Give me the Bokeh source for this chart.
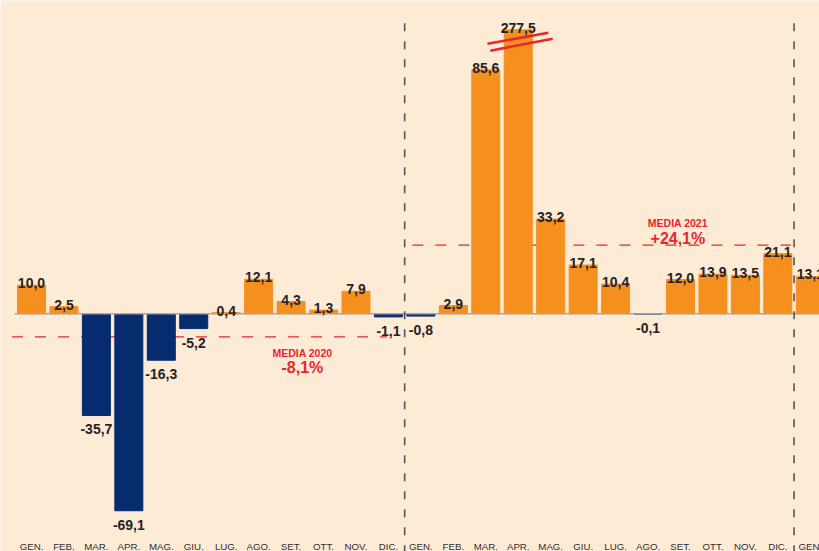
from bokeh.plotting import figure
from bokeh.models import ColumnDataSource, Range1d
from bokeh.embed import file_html
from bokeh.resources import INLINE
from bokeh.core.properties import value

# ---------------- data ----------------
months = ["GEN.", "FEB.", "MAR.", "APR.", "MAG.", "GIU.",
          "LUG.", "AGO.", "SET.", "OTT.", "NOV.", "DIC."]
month_labels = months + months + ["GEN."]
year_labels = ["2020"] * 12 + ["2021"] * 12 + ["2022"]
values_2020 = [10.0, 2.5, -35.7, -69.1, -16.3, -5.2, 0.4, 12.1, 4.3, 1.3, 7.9, -1.1]
values_2021 = [-0.8, 2.9, 85.6, 277.5, 33.2, 17.1, 10.4, -0.1, 12.0, 13.9, 13.5, 21.1]
values_2022 = [13.1]
mean_2020 = -8.1
mean_2021 = 24.1
axis_cap = 99.6   # bars taller than this are drawn broken

# ---------------- styling ----------------
BG = "#fdebd6"
ORANGE = "#f5901f"
NAVY = "#062b6e"
RED = "#e8262e"
DARK = "#262223"
FONT = "Liberation Sans"

values = values_2020 + values_2021 + values_2022
n = len(values)
xs = list(range(n))
tops = [min(v, axis_cap) for v in values]
colors = [ORANGE if v >= 0 else NAVY for v in values]
labels = [("%.1f" % v).replace(".", ",") for v in values]

pos_idx = [i for i in xs if values[i] >= 0]
neg_idx = [i for i in xs if values[i] < 0]

bars = ColumnDataSource(dict(x=xs, top=tops, color=colors))
pos_src = ColumnDataSource(dict(x=pos_idx, y=[tops[i] + 0.7 for i in pos_idx],
                                t=[labels[i] for i in pos_idx]))
neg_src = ColumnDataSource(dict(x=neg_idx, y=[tops[i] - 4.9 for i in neg_idx],
                                t=[labels[i] for i in neg_idx]))
mon_src = ColumnDataSource(dict(x=xs, y=[-81.7] * n, t=month_labels))
yr_src = ColumnDataSource(dict(x=xs, y=[-85.4] * n, t=year_labels))

p = figure(width=819, height=551, output_backend="svg", toolbar_location=None,
           x_range=Range1d(-0.955, 24.284), y_range=Range1d(-83.4, 109.9),
           x_axis_location=None, y_axis_location=None, min_border=0)
p.background_fill_color = BG
p.border_fill_color = BG
p.outline_line_color = None
p.xgrid.visible = False
p.ygrid.visible = False

# mean lines (behind bars)
p.segment(x0=[-0.6], y0=[mean_2020], x1=[10.95], y1=[mean_2020],
          line_color=RED, line_width=1.3, line_dash="11 12")
p.segment(x0=[11.74], y0=[mean_2021], x1=[23.4], y1=[mean_2021],
          line_color=RED, line_width=1.3, line_dash="11 12")

p.vbar(x="x", top="top", bottom=0, width=0.863, color="color", source=bars)

# zero line
p.segment(x0=[-0.52], y0=[0], x1=[24.4], y1=[0], line_color="#a5a5a5", line_width=1.6)

# year separators
for xv in (11.5, 23.5):
    p.segment(x0=[xv], y0=[-84], x1=[xv], y1=[105.3], line_color="#555555",
              line_width=1.6, line_dash="8 10")

# break mark on truncated bar
big = [i for i in xs if values[i] > axis_cap]
for i in big:
    p.segment(x0=[i - 0.95, i - 0.86], y0=[axis_cap - 4.9, axis_cap - 7.3],
              x1=[i + 0.93, i + 1.06], y1=[axis_cap - 1.0, axis_cap - 3.1],
              line_color=RED, line_width=2.6)

# value labels
for src in (pos_src, neg_src):
    p.text(x="x", y="y", text="t", source=src, text_align="center",
           text_baseline="alphabetic", text_font=value(FONT), text_font_style="bold",
           text_font_size="14px", text_color=DARK)

# month / year labels
for src in (mon_src, yr_src):
    p.text(x="x", y="y", text="t", source=src, text_align="center",
           text_baseline="alphabetic", text_font=value(FONT),
           text_font_size="9.7px", text_color="#303030")

# mean annotations
def fmt_mean(m):
    return ("%+.1f" % m).replace(".", ",") + "%"

p.text(x=[8.35, 19.92], y=[-13.9, 31.7], text=["MEDIA 2020", "MEDIA 2021"],
       text_align="center", text_baseline="alphabetic", text_font=value(FONT),
       text_font_style="bold", text_font_size="10.5px", text_color=RED)
p.text(x=[8.35, 19.92], y=[-18.9, 26.4], text=[fmt_mean(mean_2020), fmt_mean(mean_2021)],
       text_align="center", text_baseline="alphabetic", text_font=value(FONT),
       text_font_style="bold", text_font_size="16px", text_color=RED)

open("out.html", "w").write(file_html(p, INLINE))
